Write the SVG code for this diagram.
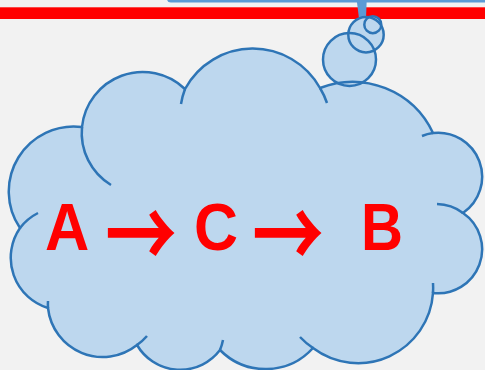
<svg xmlns="http://www.w3.org/2000/svg" width="485" height="370" viewBox="0 0 485 370">
  <style>
    .fill { fill: #BDD7EE; stroke: none; }
    .line { fill: none; stroke: #2E75B6; stroke-width: 2.5; stroke-linecap: butt; }
    .lbl { font-family: "Liberation Sans", Arial, sans-serif; font-weight: bold; fill: #FF0000; }
    .arr { font-family: "Noto Sans CJK SC", "Liberation Sans", sans-serif; font-weight: bold; fill: #FF0000; }
  </style>
  <rect x="0" y="0" width="485" height="370" fill="#F2F2F2"/>
  <g id="top-shape">
    <rect x="167" y="-30" width="330" height="32.5" rx="4" fill="#5B9BD5"/>
  </g>
  <g id="red-line">
    <rect x="0" y="7.3" width="485" height="11.7" fill="#FF0000"/>
  </g>
  <g id="stem">
    <polygon points="356.7,0 366.7,0 366,18.5 359,18.5" fill="#5B9BD5"/>
  </g>
  <g id="callout">
    <path id="cloudShape" class="fill" d="M 20 228 A 65 65 0 0 1 82 127 A 61 61 0 0 1 185 89 A 77 77 0 0 1 320 88 A 89 89 0 0 1 433 133 A 44 44 0 0 1 463 213 A 44 44 0 0 1 433 293 A 75 75 0 0 1 313 348 A 64 64 0 0 1 220 350 A 50 50 0 0 1 137 345 A 55 55 0 0 1 48 308 A 52.5 52.5 0 0 1 20 228 Z"/>
    <circle class="fill" cx="349.5" cy="59.5" r="26.5"/>
    <circle class="fill" cx="366" cy="34.7" r="17.7"/>
    <circle class="fill" cx="372.8" cy="24.7" r="8.5"/>
    <path class="line" d="M 20 228 A 65 65 0 0 1 82 127 A 61 61 0 0 1 185 89 A 77 77 0 0 1 320 88 A 89 89 0 0 1 433 133 A 44 44 0 0 1 463 213 A 44 44 0 0 1 433 293 A 75 75 0 0 1 313 348 A 64 64 0 0 1 220 350 A 50 50 0 0 1 137 345 A 55 55 0 0 1 48 308 A 52.5 52.5 0 0 1 20 228 Z"/>
    <circle class="line" cx="349.5" cy="59.5" r="26.5"/>
    <circle class="line" cx="366" cy="34.7" r="17.7"/>
    <circle class="line" cx="372.8" cy="24.7" r="8.5"/>
    <path class="line" d="M 82 127 A 61 61 0 0 0 111 185 M 185 89 A 77 77 0 0 0 181 104 M 320 88 A 77 77 0 0 1 327 103 M 433 133 A 44 44 0 0 0 422 136 M 463 213 A 44 44 0 0 0 437 204 M 433 293 A 75 75 0 0 0 433 283 M 313 348 A 75 75 0 0 1 300 337 M 220 350 A 50 50 0 0 0 223 340 M 137 345 A 55 55 0 0 0 147 336 M 48 308 A 55 55 0 0 1 48 301 M 20 228 A 52.5 52.5 0 0 1 38 213"/>
  </g>
  <g id="label">
    <text class="lbl" y="250" font-size="67"><tspan x="45" textLength="42" lengthAdjust="spacingAndGlyphs">A</tspan> <tspan class="arr" x="105" y="268.5" font-size="96" textLength="72" lengthAdjust="spacingAndGlyphs">→</tspan> <tspan x="194" y="250" textLength="44" lengthAdjust="spacingAndGlyphs">C</tspan> <tspan class="arr" x="252" y="268.5" font-size="96" textLength="72" lengthAdjust="spacingAndGlyphs">→</tspan> <tspan x="361" y="250" textLength="42" lengthAdjust="spacingAndGlyphs">B</tspan></text>
  </g>
</svg>
